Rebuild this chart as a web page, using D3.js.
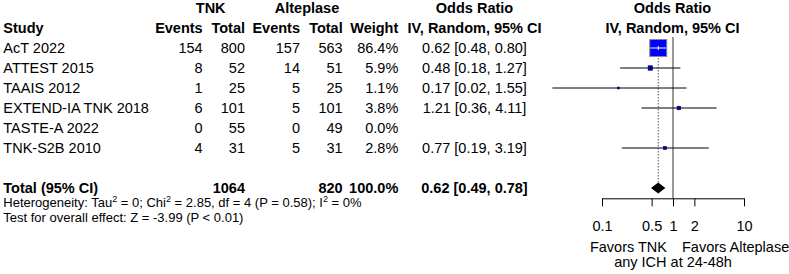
<!DOCTYPE html>
<html>
<head>
<meta charset="utf-8">
<script src="https://cdn.jsdelivr.net/npm/d3@7"></script>
<style>
  html, body { margin: 0; padding: 0; background: #fff; }
  svg text { font-family: Arial, "Liberation Sans", sans-serif; fill: #000; }
</style>
</head>
<body>
<svg id="chart" width="789" height="274"></svg>
<script>
const studies = ["AcT 2022", "ATTEST 2015", "TAAIS 2012", "EXTEND-IA TNK 2018", "TASTE-A 2022", "TNK-S2B 2010"];
const tnkEvents = [154, 8, 1, 6, 0, 4];
const tnkTotal = [800, 52, 25, 101, 55, 31];
const altEvents = [157, 14, 5, 5, 0, 5];
const altTotal = [563, 51, 25, 101, 49, 31];
const weights = [86.4, 5.9, 1.1, 3.8, 0.0, 2.8];
const orEst = [0.62, 0.48, 0.17, 1.21, null, 0.77];
const orLow = [0.48, 0.18, 0.02, 0.36, null, 0.19];
const orHigh = [0.80, 1.27, 1.55, 4.11, null, 3.19];
const pooled = { est: 0.62, low: 0.49, high: 0.78, tnkTotal: 1064, altTotal: 820, weight: "100.0%" };
const tickValues = [0.1, 0.5, 1, 2, 10];
const tickLabels = ["0.1", "0.5", "1", "2", "10"];

const svg = d3.select("#chart");
const fmt = d3.format(".2f");
const FS = 14.5;

// scales
const x = d3.scaleLog().domain([0.1, 10]).range([602, 744]);
const y = d3.scaleLinear().domain([0, 1]).range([48, 68]); // row index -> center y
const sq = d3.scaleSqrt().domain([0, 86.4]).range([0, 17]);

const BASE = 5.3; // baseline offset below row center

// headers
const hdr = svg.append("g").attr("font-weight", "bold").attr("font-size", FS);
hdr.append("text").attr("x", 210.7).attr("y", 13.3).attr("text-anchor", "middle").text("TNK");
hdr.append("text").attr("x", 307).attr("y", 13.3).attr("text-anchor", "middle").text("Alteplase");
hdr.append("text").attr("x", 474.5).attr("y", 13.3).attr("text-anchor", "middle").text("Odds Ratio");
hdr.append("text").attr("x", 672.5).attr("y", 13.3).attr("text-anchor", "middle").text("Odds Ratio");
hdr.append("text").attr("x", 3.3).attr("y", 33.3).text("Study");
hdr.append("text").attr("x", 202.7).attr("y", 33.3).attr("text-anchor", "end").text("Events");
hdr.append("text").attr("x", 245).attr("y", 33.3).attr("text-anchor", "end").text("Total");
hdr.append("text").attr("x", 300).attr("y", 33.3).attr("text-anchor", "end").text("Events");
hdr.append("text").attr("x", 342.7).attr("y", 33.3).attr("text-anchor", "end").text("Total");
hdr.append("text").attr("x", 398.3).attr("y", 33.3).attr("text-anchor", "end").text("Weight");
hdr.append("text").attr("x", 474.5).attr("y", 33.3).attr("text-anchor", "middle").text("IV, Random, 95% CI");
hdr.append("text").attr("x", 672.5).attr("y", 33.3).attr("text-anchor", "middle").text("IV, Random, 95% CI");

// study rows
const rows = svg.append("g").attr("font-size", FS);
studies.forEach((s, i) => {
  const yy = y(i) + BASE;
  rows.append("text").attr("x", 3.3).attr("y", yy).text(s);
  rows.append("text").attr("x", 202.7).attr("y", yy).attr("text-anchor", "end").text(tnkEvents[i]);
  rows.append("text").attr("x", 245).attr("y", yy).attr("text-anchor", "end").text(tnkTotal[i]);
  rows.append("text").attr("x", 300).attr("y", yy).attr("text-anchor", "end").text(altEvents[i]);
  rows.append("text").attr("x", 342.7).attr("y", yy).attr("text-anchor", "end").text(altTotal[i]);
  rows.append("text").attr("x", 398.3).attr("y", yy).attr("text-anchor", "end").text(weights[i].toFixed(1) + "%");
  if (orEst[i] != null) {
    rows.append("text").attr("x", 474.5).attr("y", yy).attr("text-anchor", "middle")
      .text(`${fmt(orEst[i])} [${fmt(orLow[i])}, ${fmt(orHigh[i])}]`);
  }
});

// total row
const tot = svg.append("g").attr("font-size", FS).attr("font-weight", "bold");
const ty = y(7) + BASE;
tot.append("text").attr("x", 3.3).attr("y", ty).text("Total (95% CI)");
tot.append("text").attr("x", 245).attr("y", ty).attr("text-anchor", "end").text(pooled.tnkTotal);
tot.append("text").attr("x", 342.7).attr("y", ty).attr("text-anchor", "end").text(pooled.altTotal);
tot.append("text").attr("x", 398.3).attr("y", ty).attr("text-anchor", "end").text(pooled.weight);
tot.append("text").attr("x", 474.5).attr("y", ty).attr("text-anchor", "middle")
  .text(`${fmt(pooled.est)} [${fmt(pooled.low)}, ${fmt(pooled.high)}]`);

// heterogeneity text
const het = svg.append("text").attr("x", 3.3).attr("y", 206.7).attr("font-size", 13);
het.append("tspan").text("Heterogeneity: Tau");
het.append("tspan").attr("font-size", 9).attr("dy", -5).text("2");
het.append("tspan").attr("dy", 5).text(" = 0; Chi");
het.append("tspan").attr("font-size", 9).attr("dy", -5).text("2");
het.append("tspan").attr("dy", 5).text(" = 2.85, df = 4 (P = 0.58); I");
het.append("tspan").attr("font-size", 9).attr("dy", -5).text("2");
het.append("tspan").attr("dy", 5).text(" = 0%");
svg.append("text").attr("x", 3.3).attr("y", 221.7).attr("font-size", 13)
  .text("Test for overall effect: Z = -3.99 (P < 0.01)");

// plot
const plot = svg.append("g");
// null line
plot.append("line").attr("x1", x(1)).attr("x2", x(1)).attr("y1", 37).attr("y2", 198.3)
  .attr("stroke", "#444").attr("stroke-width", 1.1);
// pooled dotted line
plot.append("line").attr("x1", x(pooled.est)).attr("x2", x(pooled.est)).attr("y1", 40).attr("y2", 183)
  .attr("stroke", "#555").attr("stroke-width", 1).attr("stroke-dasharray", "1.5,1.5");

studies.forEach((s, i) => {
  if (orEst[i] == null) return;
  const cy = y(i);
  const side = sq(weights[i]);
  const cx = x(orEst[i]);
  const inside = x(orLow[i]) >= cx - side / 2 && x(orHigh[i]) <= cx + side / 2;
  if (!inside) {
    plot.append("line").attr("x1", x(orLow[i])).attr("x2", x(orHigh[i])).attr("y1", cy).attr("y2", cy)
      .attr("stroke", "#000").attr("stroke-width", 1);
  }
  plot.append("rect").attr("x", cx - side / 2).attr("y", cy - side / 2)
    .attr("width", side).attr("height", side)
    .attr("fill", side > 8 ? "#0000ff" : "#0000a0")
    .attr("stroke", side > 8 ? "#888" : "#000060").attr("stroke-width", side > 8 ? 1 : 0.6);
  if (inside) {
    plot.append("line").attr("x1", x(orLow[i])).attr("x2", x(orHigh[i])).attr("y1", cy).attr("y2", cy)
      .attr("stroke", "#fff").attr("stroke-width", 1);
    plot.append("line").attr("x1", cx).attr("x2", cx).attr("y1", cy - 2).attr("y2", cy + 2)
      .attr("stroke", "#fff").attr("stroke-width", 1);
  }
});

// diamond
const dy = y(7);
plot.append("path")
  .attr("d", `M${x(pooled.low)},${dy} L${x(pooled.est)},${dy - 5.5} L${x(pooled.high)},${dy} L${x(pooled.est)},${dy + 5.5} Z`)
  .attr("fill", "#000");

// axis
const axis = d3.axisBottom(x).tickValues(tickValues).tickFormat((d, i) => tickLabels[i])
  .tickSize(8).tickSizeOuter(0).tickPadding(14.5);
const ag = svg.append("g").attr("transform", "translate(0,198.3)").call(axis);
ag.select(".domain").attr("stroke", "#000").attr("stroke-width", 1);
ag.selectAll(".tick line").attr("stroke", "#000");
ag.selectAll(".tick text").attr("font-size", FS).attr("font-family", "Arial, 'Liberation Sans', sans-serif").attr("fill", "#000");

// labels below axis
svg.append("text").attr("x", 667).attr("y", 251.5).attr("font-size", FS).attr("text-anchor", "end").text("Favors TNK");
svg.append("text").attr("x", 682).attr("y", 251.5).attr("font-size", FS).text("Favors Alteplase");
svg.append("text").attr("x", 673).attr("y", 267).attr("font-size", FS).attr("text-anchor", "middle").text("any ICH at 24-48h");
</script>
</body>
</html>
